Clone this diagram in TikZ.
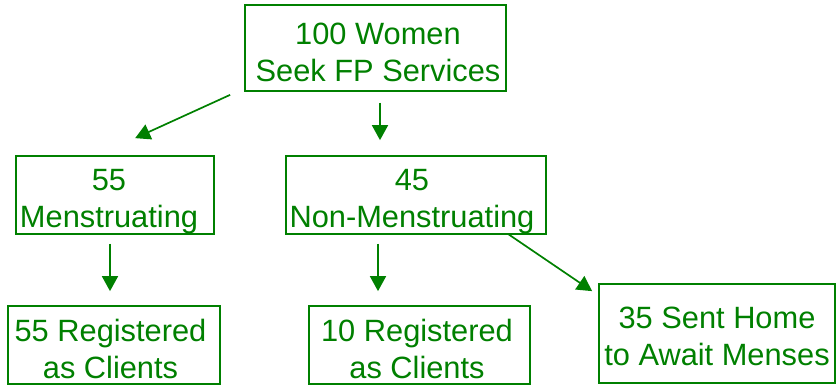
\documentclass[tikz,border=0pt]{standalone}
\usepackage{fontspec}
\setmainfont{Liberation Sans}
\usetikzlibrary{arrows.meta,calc}
\definecolor{fpgreen}{RGB}{0,128,0}
\tikzset{
  box/.style={draw=fpgreen, line width=1.7pt, rectangle, inner sep=0pt},
  txt/.style={text=fpgreen, align=center, anchor=base, inner sep=0pt,
              font=\fontsize{30.8}{37}\selectfont},
  flow/.style={draw=fpgreen, line width=1.7pt,
               -{Triangle[length=15pt,width=16pt]}, fill=fpgreen}
}
\begin{document}
\begin{tikzpicture}[x=1pt,y=-1pt]
  \useasboundingbox (0,0) rectangle (836,385);

  % boxes
  \node[box, minimum width=261pt, minimum height=86pt] (top)   at (375.5,48)  {};
  \node[box, minimum width=198pt, minimum height=78pt] (men)   at (115,195)   {};
  \node[box, minimum width=260pt, minimum height=78pt] (non)   at (416,195)   {};
  \node[box, minimum width=212pt, minimum height=78pt] (reg55) at (114,345)   {};
  \node[box, minimum width=221pt, minimum height=78pt] (reg10) at (419.5,345) {};
  \node[box, minimum width=236pt, minimum height=99pt] (home)  at (717,333.5) {};

  % labels (anchored at the baseline of the last line)
  \node[txt] (topT)   at (378,82)    {100 Women\\Seek FP Services};
  \node[txt] (menT)   at (109,228)   {55\\Menstruating};
  \node[txt] (nonT)   at (412,228)   {45\\Non-Menstruating};
  \node[txt] (reg55T) at (110.5,378) {55 Registered\\as Clients};
  \node[txt] (reg10T) at (417,378)   {10 Registered\\as Clients};
  \node[txt] (homeT)  at (717,365.5) {35 Sent Home\\to Await Menses};

  % connectors
  \draw[flow] ($(top.south west)+(-14,3)$) -- ($(men.north west)+(120,-17)$);
  \draw[flow] ($(top.south)+(4.5,11)$) -- ($(non.north)+(-36,-15)$);
  \draw[flow] ($(men.south)+(-5,9)$) -- ($(reg55.north)+(-4,-14)$);
  \draw[flow] ($(non.south)+(-38,9)$) -- ($(reg10.north)+(-41.5,-14)$);
  \draw[flow] ($(non.south east)+(-39,-1)$) -- ($(home.north west)+(-6,8)$);
\end{tikzpicture}
\end{document}
